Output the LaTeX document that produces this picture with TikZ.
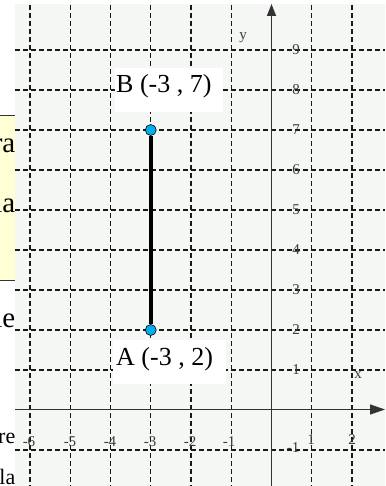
\documentclass[tikz,border=0pt]{standalone}
\usepackage{fontspec}
\setmainfont{Liberation Serif}
\usetikzlibrary{arrows.meta}
\definecolor{gridbg}{RGB}{244,247,243}
\definecolor{ptcyan}{RGB}{0,174,239}
\definecolor{noteyellow}{RGB}{255,255,214}
\definecolor{ticklab}{RGB}{60,60,60}
\tikzset{
  gridline/.style={line width=1.25pt, dash pattern=on 5pt off 3pt, black!90},
  axisline/.style={line width=1.4pt, black!80},
  ticklabel/.style={font=\fontsize{15}{16}\selectfont, text=ticklab, inner sep=0pt},
  ptlabel/.style={font=\fontsize{26}{30}\selectfont, inner sep=0pt, anchor=base west},
  dot/.style={circle, fill=ptcyan, draw=black, line width=0.6pt, minimum size=11pt, inner sep=0pt},
  sidetext/.style={font=\fontsize{29}{31}\selectfont, inner sep=0pt, anchor=base east},
  sidesmall/.style={font=\fontsize{22}{24}\selectfont, inner sep=0pt, anchor=base east},
}
\begin{document}
\begin{tikzpicture}[x=1pt,y=-1pt]
\useasboundingbox (0,0) rectangle (385,486);
\begin{scope}
\clip (0,0) rectangle (385,486);
% side note fragments
\fill[noteyellow] (-5,115) rectangle (15,280);
\draw[black!80, line width=0.8pt] (-5,115) -- (15,115) (-5,280) -- (15,280);
\node[sidetext] (s1) at (15.5,153) {ra};
\node[sidetext] (s2) at (15.5,212) {la};
\node[sidetext] (s3) at (15.5,327) {le};
\node[sidesmall] (s4) at (15.5,443) {re};
\node[sidesmall] (s5) at (15.5,484) {la};
% grid background
\fill[gridbg] (15,4) rectangle (385,486);
\foreach \x in {30,70.25,110.5,150.75,191,231.25,311.75,352}
  \draw[gridline] (\x,5) -- (\x,486);
\foreach \y in {50,90,130,170,210,250,290,330,370,450}
  \draw[gridline] (15,\y) -- (385,\y);
% axes
\coordinate (ybot) at (271.5,486);
\coordinate (ytop) at (271.5,4);
\coordinate (xleft) at (15,409.5);
\coordinate (xright) at (385,409.5);
\draw[axisline, -{Triangle[length=12pt,width=9pt]}] (ybot) -- (ytop);
\draw[axisline, -{Triangle[length=15pt,width=10pt]}] (xleft) -- (xright);
% tick labels
\foreach \v/\y in {9/50,8/90,7/130,6/170,5/210,4/250,3/290,2/330,1/370}
  \node[ticklabel] (ty\v) at (296,\y) {\v};
\node[ticklabel] (tym1) at (293,448) {-1};
\foreach \v/\x in {6/29,5/70,4/110,3/150,2/190,1/229}
  \node[ticklabel] (txm\v) at (\x,442) {-\v};
\node[ticklabel] (tx1) at (311,440) {1};
\node[ticklabel] (tx2) at (352,440) {2};
\node[ticklabel] (ylab) at (243,38) {y};
\node[ticklabel] (xlab) at (358,375) {x};
% point labels
\fill[white] (115,68) rectangle (223,112);
\node[ptlabel] (labB) at (116,93) {B (-3 , 7)};
\fill[white] (113,340) rectangle (226,384);
\node[ptlabel] (labA) at (116,365) {A (-3 , 2)};
% segment
\node[dot] (B) at (150.75,130) {};
\node[dot] (A) at (150.75,330) {};
\draw[line width=3.5pt] (A) -- (B);
\end{scope}
\end{tikzpicture}
\end{document}
